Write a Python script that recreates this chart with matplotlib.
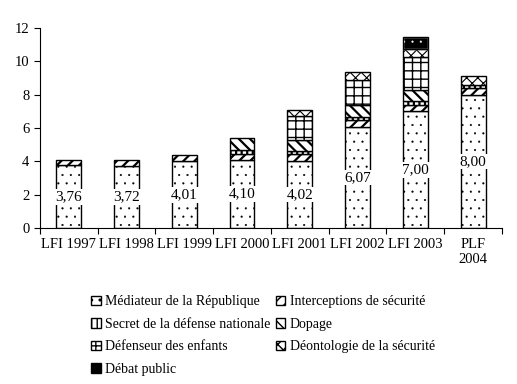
import numpy as np
import matplotlib
matplotlib.use('Agg')
import matplotlib.pyplot as plt

plt.rcParams['font.family'] = ['Liberation Serif', 'DejaVu Serif']
plt.rcParams['hatch.linewidth'] = 1.0

# categories and series (millions d'euros)
categories = ['LFI 1997', 'LFI 1998', 'LFI 1999', 'LFI 2000', 'LFI 2001',
              'LFI 2002', 'LFI 2003', 'PLF\n2004']
mediateur = [3.76, 3.72, 4.01, 4.10, 4.02, 6.07, 7.00, 8.00]
interceptions = [0.32, 0.36, 0.40, 0.36, 0.40, 0.40, 0.40, 0.40]
secret = [0, 0, 0, 0.24, 0.20, 0.20, 0.24, 0.18]
dopage = [0, 0, 0, 0.70, 0.64, 0.70, 0.66, 0]
defenseur = [0, 0, 0, 0, 1.46, 1.50, 1.98, 0]
deontologie = [0, 0, 0, 0, 0.34, 0.50, 0.46, 0.52]
debat = [0, 0, 0, 0, 0, 0, 0.70, 0]
mediateur_labels = ['3,76', '3,72', '4,01', '4,10', '4,02', '6,07', '7,00', '8,00']

# name, values, face, hatch, hatch colour, hatch linewidth
series = [
    ('Médiateur de la République', mediateur, 'white', '..', 'black', 0.3),
    ('Interceptions de sécurité', interceptions, 'white', '///', 'black', 1.6),
    ('Secret de la défense nationale', secret, 'white', '|||', 'black', 1.6),
    ('Dopage', dopage, 'white', '\\\\\\', 'black', 1.6),
    ('Défenseur des enfants', defenseur, 'white', '++', 'black', 1.0),
    ('Déontologie de la sécurité', deontologie, 'white', 'xxx', 'black', 0.8),
    ('Débat public', debat, 'black', '..', 'white', 0.3),
]


def set_hlw(p, lw):
    if hasattr(p, 'set_hatch_linewidth'):
        p.set_hatch_linewidth(lw)


fig = plt.figure(figsize=(5.17, 3.84), dpi=100)
ax = fig.add_axes([0.077, 0.406, 0.894, 0.521])

x = np.arange(len(categories))
width = 0.43
bottom = np.zeros(len(categories))
handles = []
for name, vals, fc, hatch, hc, hlw in series:
    vals = np.array(vals, dtype=float)
    mask = vals > 0
    bars = ax.bar(x[mask], vals[mask], width, bottom=bottom[mask],
                  color=fc, edgecolor=hc, hatch=hatch, linewidth=1.0)
    for b in bars:
        set_hlw(b, hlw)
    if hc != 'black':
        # contour noir par-dessus
        ax.bar(x[mask], vals[mask], width, bottom=bottom[mask],
               fill=False, edgecolor='black', linewidth=1.0)
        h = plt.Rectangle((0, 0), 1, 1, facecolor=fc, edgecolor='black',
                          linewidth=1.0)
    else:
        h = plt.Rectangle((0, 0), 1, 1, facecolor=fc, edgecolor='black',
                          hatch=hatch, linewidth=1.0)
        set_hlw(h, hlw)
    handles.append((h, name))
    bottom += vals

for i, lab in enumerate(mediateur_labels):
    ax.text(x[i], mediateur[i] / 2, lab, ha='center', va='center', fontsize=11,
            bbox=dict(facecolor='white', edgecolor='none', pad=1.0))

ax.set_xlim(-0.5, len(categories) - 0.5)
ax.set_ylim(0, 12)
ax.set_yticks(np.arange(0, 13, 2))
ax.tick_params(axis='y', labelsize=10.5, length=4, direction='out')
ax.set_xticks(np.arange(-0.5, len(categories), 1))
ax.set_xticklabels([])
ax.tick_params(axis='x', length=4, direction='out')
ax.set_xticks(x, minor=True)
ax.set_xticklabels(categories, minor=True, fontsize=10.5)
ax.tick_params(axis='x', which='minor', length=0, pad=7)
ax.spines['top'].set_visible(False)
ax.spines['right'].set_visible(False)

order = [0, 2, 4, 6, 1, 3, 5]
fig.legend([handles[i][0] for i in order], [handles[i][1] for i in order],
           ncol=2, loc='upper left', bbox_to_anchor=(0.165, 0.245),
           frameon=False, fontsize=10, handlelength=0.7, handleheight=0.7,
           handletextpad=0.3, columnspacing=0.4, labelspacing=0.68,
           borderaxespad=0)

fig.savefig('out.png', dpi=100)
